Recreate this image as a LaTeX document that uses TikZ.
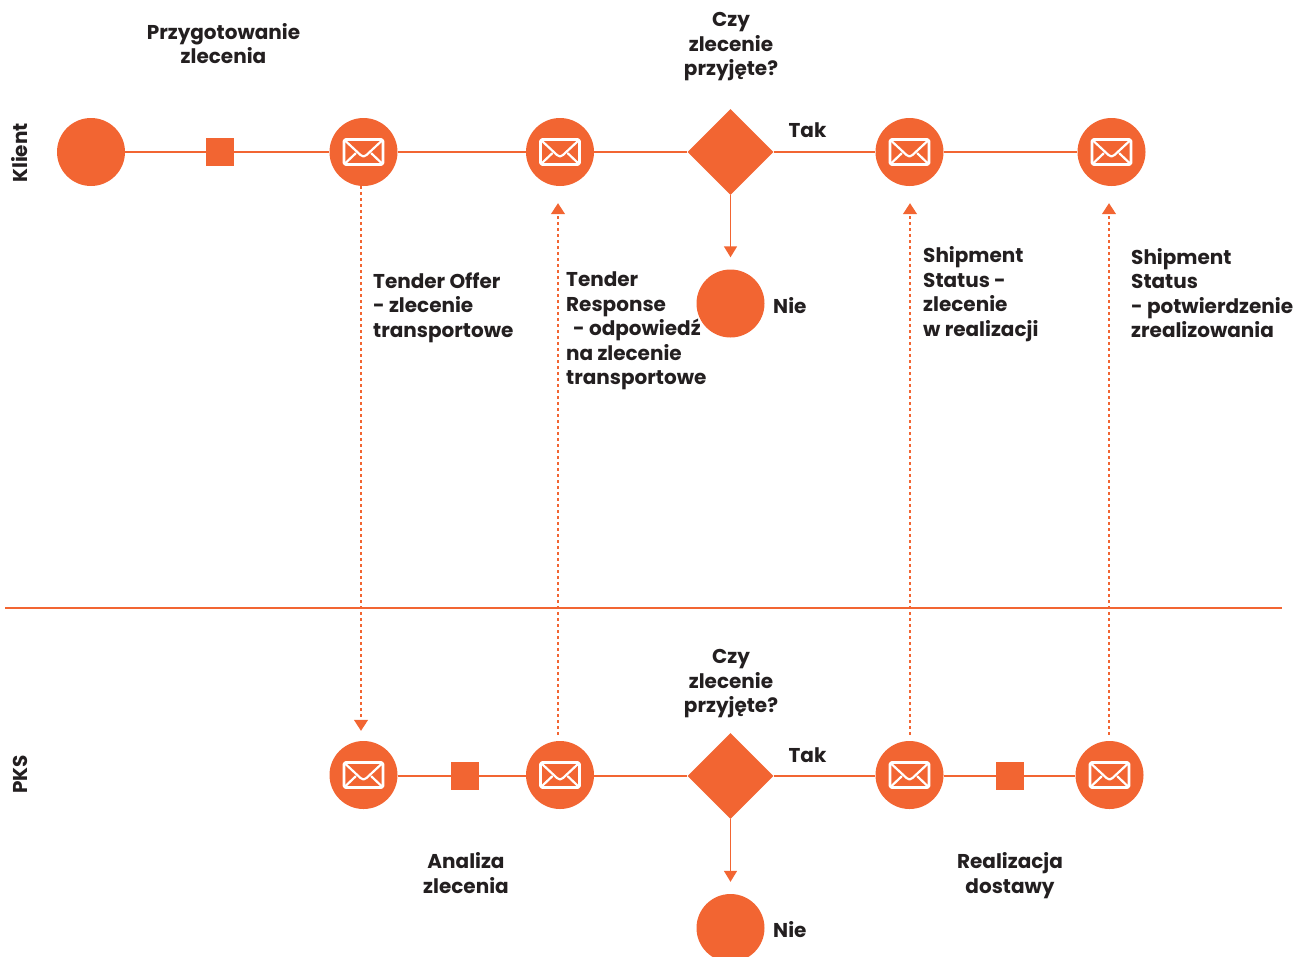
\documentclass[tikz,border=0pt]{standalone}
\usepackage{fontspec}
\setmainfont{Poppins}
\usetikzlibrary{arrows.meta,shapes.geometric}
\definecolor{acc}{HTML}{F26532}
\definecolor{ink}{HTML}{231F20}
\tikzset{
  ev/.style={circle,fill=acc,draw=none,minimum size=68pt,inner sep=0pt},
  mail/.style={ev,path picture={
    \begin{scope}[shift={(path picture bounding box.center)},x=1pt,y=-1pt,draw=white,line width=2.6pt,line join=round,line cap=round]
      \draw[rounded corners=1.5pt] (-19.5,-12.5) rectangle (19.5,12.5);
      \draw[line width=2.2pt] (-18,-11) -- (-3,3) .. controls (-1,5) and (1,5) .. (3,3) -- (18,-11);
      \draw[line width=2.2pt] (-18,11) -- (-8,1.5) (18,11) -- (8,1.5);
    \end{scope}}},
  task/.style={rectangle,fill=acc,draw=none,minimum size=28pt,inner sep=0pt},
  gate/.style={diamond,fill=acc,draw=none,minimum size=86pt,inner sep=0pt},
  flow/.style={draw=acc,line width=1.5pt},
  arrowflow/.style={flow,-{Triangle[length=11pt,width=13pt]}},
  msg/.style={flow,line width=1.25pt,dash pattern=on 3pt off 3pt,-{Triangle[length=11pt,width=14pt]}},
  lab/.style={inner sep=0pt,text=ink,align=center,font=\fontsize{20}{24.5}\selectfont\bfseries},
  labl/.style={lab,align=left,anchor=west},
}
\begin{document}
\begin{tikzpicture}[x=1pt,y=-1pt]
\path[use as bounding box,clip] (0,0) rectangle (1311,956);
% top lane
\node[ev] (start) at (91,152) {};
\node[task] (prep) at (220,152) {};
\node[mail] (t1) at (363.5,152) {};
\node[mail] (t2) at (560,152) {};
\node[gate] (tg) at (730.5,152) {};
\node[mail] (t3) at (909.5,152) {};
\node[mail] (t4) at (1111.5,152) {};
\node[ev] (tno) at (730.5,303.5) {};
% bottom lane
\node[mail] (b1) at (363.5,775) {};
\node[task] (ana) at (465,776) {};
\node[mail] (b2) at (560,775) {};
\node[gate] (bg) at (730.5,776) {};
\node[mail] (b3) at (909.5,775) {};
\node[task] (real) at (1010,776) {};
\node[mail] (b4) at (1109.5,775) {};
\node[ev] (bno) at (730.5,928) {};
% lane divider
\coordinate (divl) at (5,608);
\coordinate (divr) at (1282,608);
\draw[flow] (divl) -- (divr);
% sequence flows
\draw[flow] (start) -- (prep);
\draw[flow] (prep) -- (t1);
\draw[flow] (t1) -- (t2);
\draw[flow] (t2) -- (tg);
\draw[flow] (tg) -- (t3);
\draw[flow] (t3) -- (t4);
\draw[flow] ([yshift=-1pt]b1.east) -- (ana.west);
\draw[flow] (ana.east) -- ([yshift=-1pt]b2.west);
\draw[flow] ([yshift=-1pt]b2.east) -- (bg.west);
\draw[flow] (bg.east) -- ([yshift=-1pt]b3.west);
\draw[flow] ([yshift=-1pt]b3.east) -- (real.west);
\draw[flow] (real.east) -- ([yshift=-1pt]b4.west);
\draw[arrowflow] (tg.south) -- ([yshift=12pt]tno.north);
\draw[arrowflow] (bg.south) -- ([yshift=12pt]bno.north);
% messages
\draw[msg,shorten >=10pt] ([xshift=-2.5pt]t1.south) -- ([xshift=-2.5pt]b1.north);
\draw[msg,shorten <=6pt,shorten >=17pt] ([xshift=-2pt]b2.north) -- ([xshift=-2pt]t2.south);
\draw[msg,shorten <=6pt,shorten >=17pt] ([xshift=.5pt]b3.north) -- ([xshift=.5pt]t3.south);
\draw[msg,shorten <=6pt,shorten >=17pt] ([xshift=-.5pt]b4.north) -- ([xshift=-2.5pt]t4.south);
% labels
\node[lab] (l1) at (223.5,43.5) {Przygotowanie\\zlecenia};
\node[lab] (l2) at (731,47) {Czy\\zlecenie\\przyjęte?};
\node[lab] (l3) at (807.5,130) {Tak};
\node[labl] (l4) at (773,306) {Nie};
\node[labl] (l5) at (373,307.5) {Tender Offer\\- zlecenie\\transportowe};
\node[labl] (l6) at (566,331) {Tender\\Response\\\hspace*{7pt}- odpowiedź\\na zlecenie\\transportowe};
\node[labl] (l7) at (923,294) {Shipment\\Status -\\zlecenie\\w realizacji};
\node[labl] (l8) at (1131,293) {Shipment\\Status\\- potwierdzenie\\zrealizowania};
\node[lab,rotate=90] (l9) at (20,153) {Klient};
\node[lab,rotate=90] (l10) at (20,774.5) {PKS};
\node[lab] (l11) at (731,684) {Czy\\zlecenie\\przyjęte?};
\node[lab] (l12) at (807.5,755) {Tak};
\node[labl] (l13) at (773,930) {Nie};
\node[lab] (l14) at (466,873) {Analiza\\zlecenia};
\node[lab] (l15) at (1010,875.5) {Realizacja\\dostawy};
\end{tikzpicture}
\end{document}
